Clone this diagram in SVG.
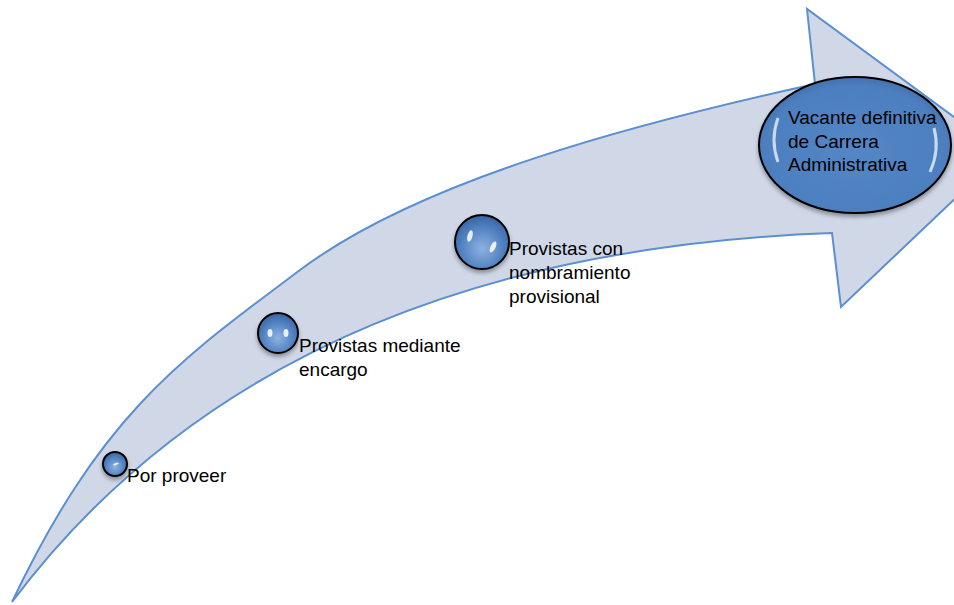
<svg xmlns="http://www.w3.org/2000/svg" width="954" height="605" viewBox="0 0 954 605">
<style>
.lbl{font-family:"Liberation Sans",Arial,sans-serif;font-size:19px;fill:#000}
.ball{fill:url(#gBall);stroke:#000;stroke-width:2}
.hl{fill:#fff;opacity:0.85}
</style>
<defs>
<radialGradient id="gBall" cx="0.5" cy="0.62" r="0.6">
<stop offset="0" stop-color="#8fb2e0"/>
<stop offset="0.6" stop-color="#5585c4"/>
<stop offset="1" stop-color="#3a66a4"/>
</radialGradient>
<radialGradient id="gEll" cx="0.5" cy="0.55" r="0.6">
<stop offset="0" stop-color="#5486c6"/>
<stop offset="0.8" stop-color="#4d7fbf"/>
<stop offset="1" stop-color="#3a66a4"/>
</radialGradient>
<filter id="sh" x="-30%" y="-30%" width="160%" height="170%">
<feGaussianBlur in="SourceAlpha" stdDeviation="2"/>
<feOffset dy="3"/>
<feComponentTransfer><feFuncA type="linear" slope="0.35"/></feComponentTransfer>
<feMerge><feMergeNode/><feMergeNode in="SourceGraphic"/></feMerge>
</filter>
</defs>
<g id="connectors">
<path id="arrow" d="M12,602 C102,413 180,360 300,270 C420,180 635,123.6 815,84 L807,9 L1003,153 L841,307 L832,233 C500,245 205,345 12,602 Z" fill="#d0d8e8" stroke="#5b8fd0" stroke-width="2" stroke-linejoin="miter"/>
</g>
<g id="node-por-proveer">
<circle class="ball" cx="115" cy="464" r="12" filter="url(#sh)"/>
<ellipse class="hl" cx="116" cy="464" rx="3" ry="1" transform="rotate(-20 116 464)"/>
<text class="lbl" x="127" y="482">Por proveer</text>
</g>
<g id="node-mediante">
<circle class="ball" cx="278" cy="333" r="20" filter="url(#sh)"/>
<ellipse class="hl" cx="270" cy="333" rx="2.5" ry="4"/>
<ellipse class="hl" cx="286" cy="333" rx="2.5" ry="4"/>
<text class="lbl" x="299" y="352">Provistas mediante</text>
<text class="lbl" x="299" y="376">encargo</text>
</g>
<g id="node-provistas-con">
<circle class="ball" cx="482" cy="242" r="27" filter="url(#sh)"/>
<ellipse class="hl" cx="470" cy="236" rx="2.5" ry="6" transform="rotate(15 470 236)"/>
<ellipse class="hl" cx="493" cy="247" rx="2.5" ry="6" transform="rotate(25 493 247)"/>
<text class="lbl" x="509" y="255">Provistas con</text>
<text class="lbl" x="509" y="279">nombramiento</text>
<text class="lbl" x="509" y="303">provisional</text>
</g>
<g id="node-vacante">
<ellipse cx="855" cy="145" rx="96" ry="68" fill="url(#gEll)" stroke="#000" stroke-width="2" filter="url(#sh)"/>
<path d="M778,118 Q770,140 778,162" fill="none" stroke="#fff" stroke-width="3" opacity="0.7"/>
<path d="M934,128 Q940,150 930,172" fill="none" stroke="#fff" stroke-width="3" opacity="0.7"/>
<text class="lbl" x="788" y="124">Vacante definitiva</text>
<text class="lbl" x="788" y="148">de Carrera</text>
<text class="lbl" x="788" y="171">Administrativa</text>
</g>
</svg>
